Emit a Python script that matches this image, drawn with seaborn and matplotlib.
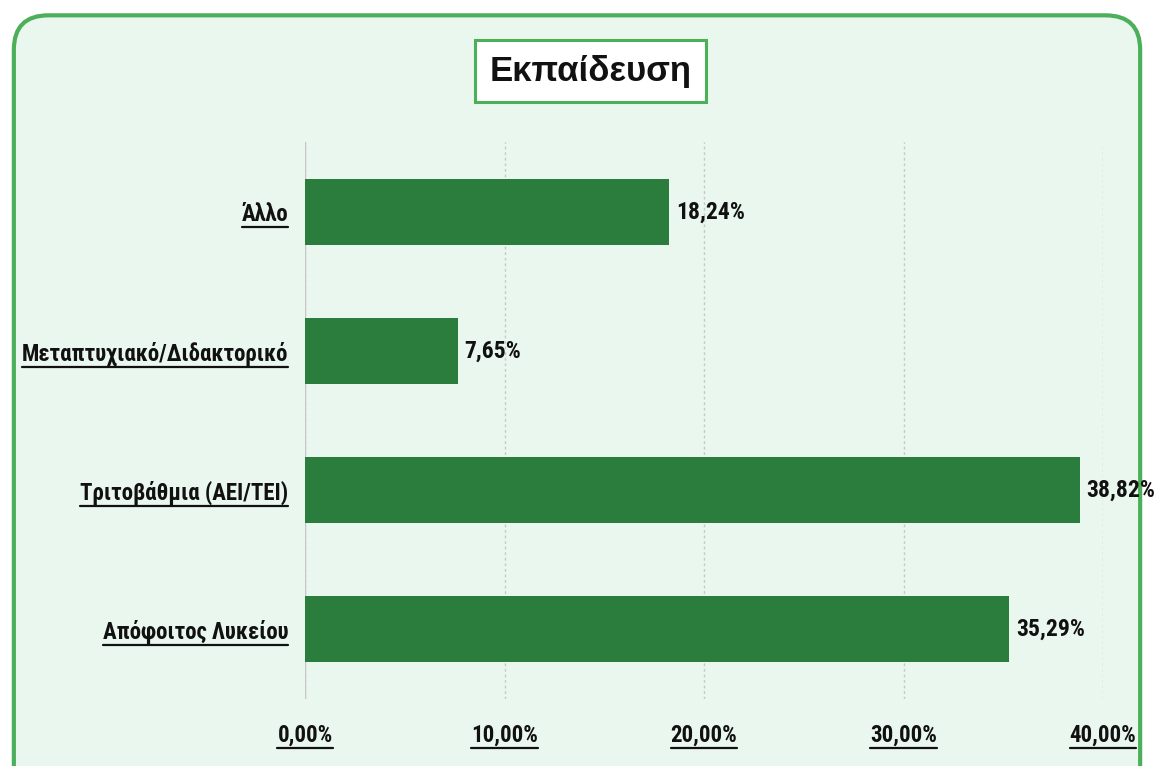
import matplotlib
matplotlib.use("Agg")
import matplotlib.pyplot as plt
import seaborn as sns
import pandas as pd
from matplotlib.patches import FancyBboxPatch
from matplotlib.lines import Line2D
from matplotlib.ticker import FuncFormatter
import matplotlib.font_manager as fm

categories = ["Άλλο", "Μεταπτυχιακό/Διδακτορικό", "Τριτοβάθμια (ΑΕΙ/ΤΕΙ)", "Απόφοιτος Λυκείου"]
values = [18.24, 7.65, 38.82, 35.29]
title = "Εκπαίδευση"

sns.set_theme(style="white")
names = sorted({f.name for f in fm.fontManager.ttflist})
narrow = "DejaVu Sans"
for cand in ["Liberation Sans Narrow", "Roboto Condensed", "DejaVu Sans Condensed"]:
    if cand in names:
        narrow = cand
        break
plt.rcParams["font.family"] = [narrow, "DejaVu Sans"]

df = pd.DataFrame({"cat": categories, "val": values})

bg = "#eaf7ee"
fig = plt.figure(figsize=(11.54, 7.66), dpi=100, facecolor="white")
border = FancyBboxPatch((0.012, -0.05), 0.976, 1.03, boxstyle="round,pad=0,rounding_size=0.03",
                        transform=fig.transFigure, facecolor=bg, edgecolor="#4caf5a", linewidth=3,
                        mutation_aspect=1.5, zorder=-5)
fig.patches.append(border)

ax = fig.add_axes([0.2643, 0.088, 0.6916, 0.726])
ax.set_zorder(2)
ax.set_facecolor("none")
sns.barplot(data=df, x="val", y="cat", orient="h", color="#2b7d3d", width=0.47,
            saturation=1, linewidth=0, ax=ax, zorder=3)
ax.set_xlim(0, 40)
ax.set_ylim(3.5, -0.5)
ax.set_xticks([0, 10, 20, 30, 40])
ax.xaxis.set_major_formatter(FuncFormatter(lambda v, p: f"{v:.2f}".replace(".", ",") + "%"))
ax.grid(axis="x", color="#c8c8c8", linestyle=(0, (2, 2)), linewidth=1, zorder=0)
ax.axvline(0, color="#c8c8c8", linewidth=1, zorder=1)
for s in ax.spines.values():
    s.set_visible(False)
ax.set_xlabel("")
ax.set_ylabel("")
fs = 16.5 if narrow != "DejaVu Sans" else 12
ax.tick_params(axis="x", labelsize=fs, pad=18, length=0)
ax.tick_params(axis="y", labelsize=fs, pad=12, length=0)
for t in ax.get_xticklabels() + ax.get_yticklabels():
    t.set_fontweight("bold")
    t.set_color("#111111")

for i, v in enumerate(values):
    ax.text(v + 0.35, i, f"{v:.2f}".replace(".", ",") + "%", va="center", ha="left",
            fontsize=fs + 0.5, fontweight="bold", color="#111111", zorder=4)

fig.text(0.512, 0.907, title, ha="center", va="center", fontsize=25, fontweight="bold",
         family=["Liberation Sans", "DejaVu Sans"], color="#111111", zorder=5,
         bbox=dict(boxstyle="square,pad=0.42", facecolor="white", edgecolor="#4caf5a", linewidth=2.2))

fig.canvas.draw()
r = fig.canvas.get_renderer()
W, H = fig.get_size_inches() * fig.dpi
for t in ax.get_xticklabels() + ax.get_yticklabels():
    if not t.get_text():
        continue
    bb = t.get_window_extent(r)
    y = bb.y0 - 1
    fig.add_artist(Line2D([bb.x0 / W, bb.x1 / W], [y / H, y / H], color="#111111",
                          linewidth=1.6, transform=fig.transFigure, zorder=6))

fig.savefig("out.png", dpi=100, facecolor="white")
